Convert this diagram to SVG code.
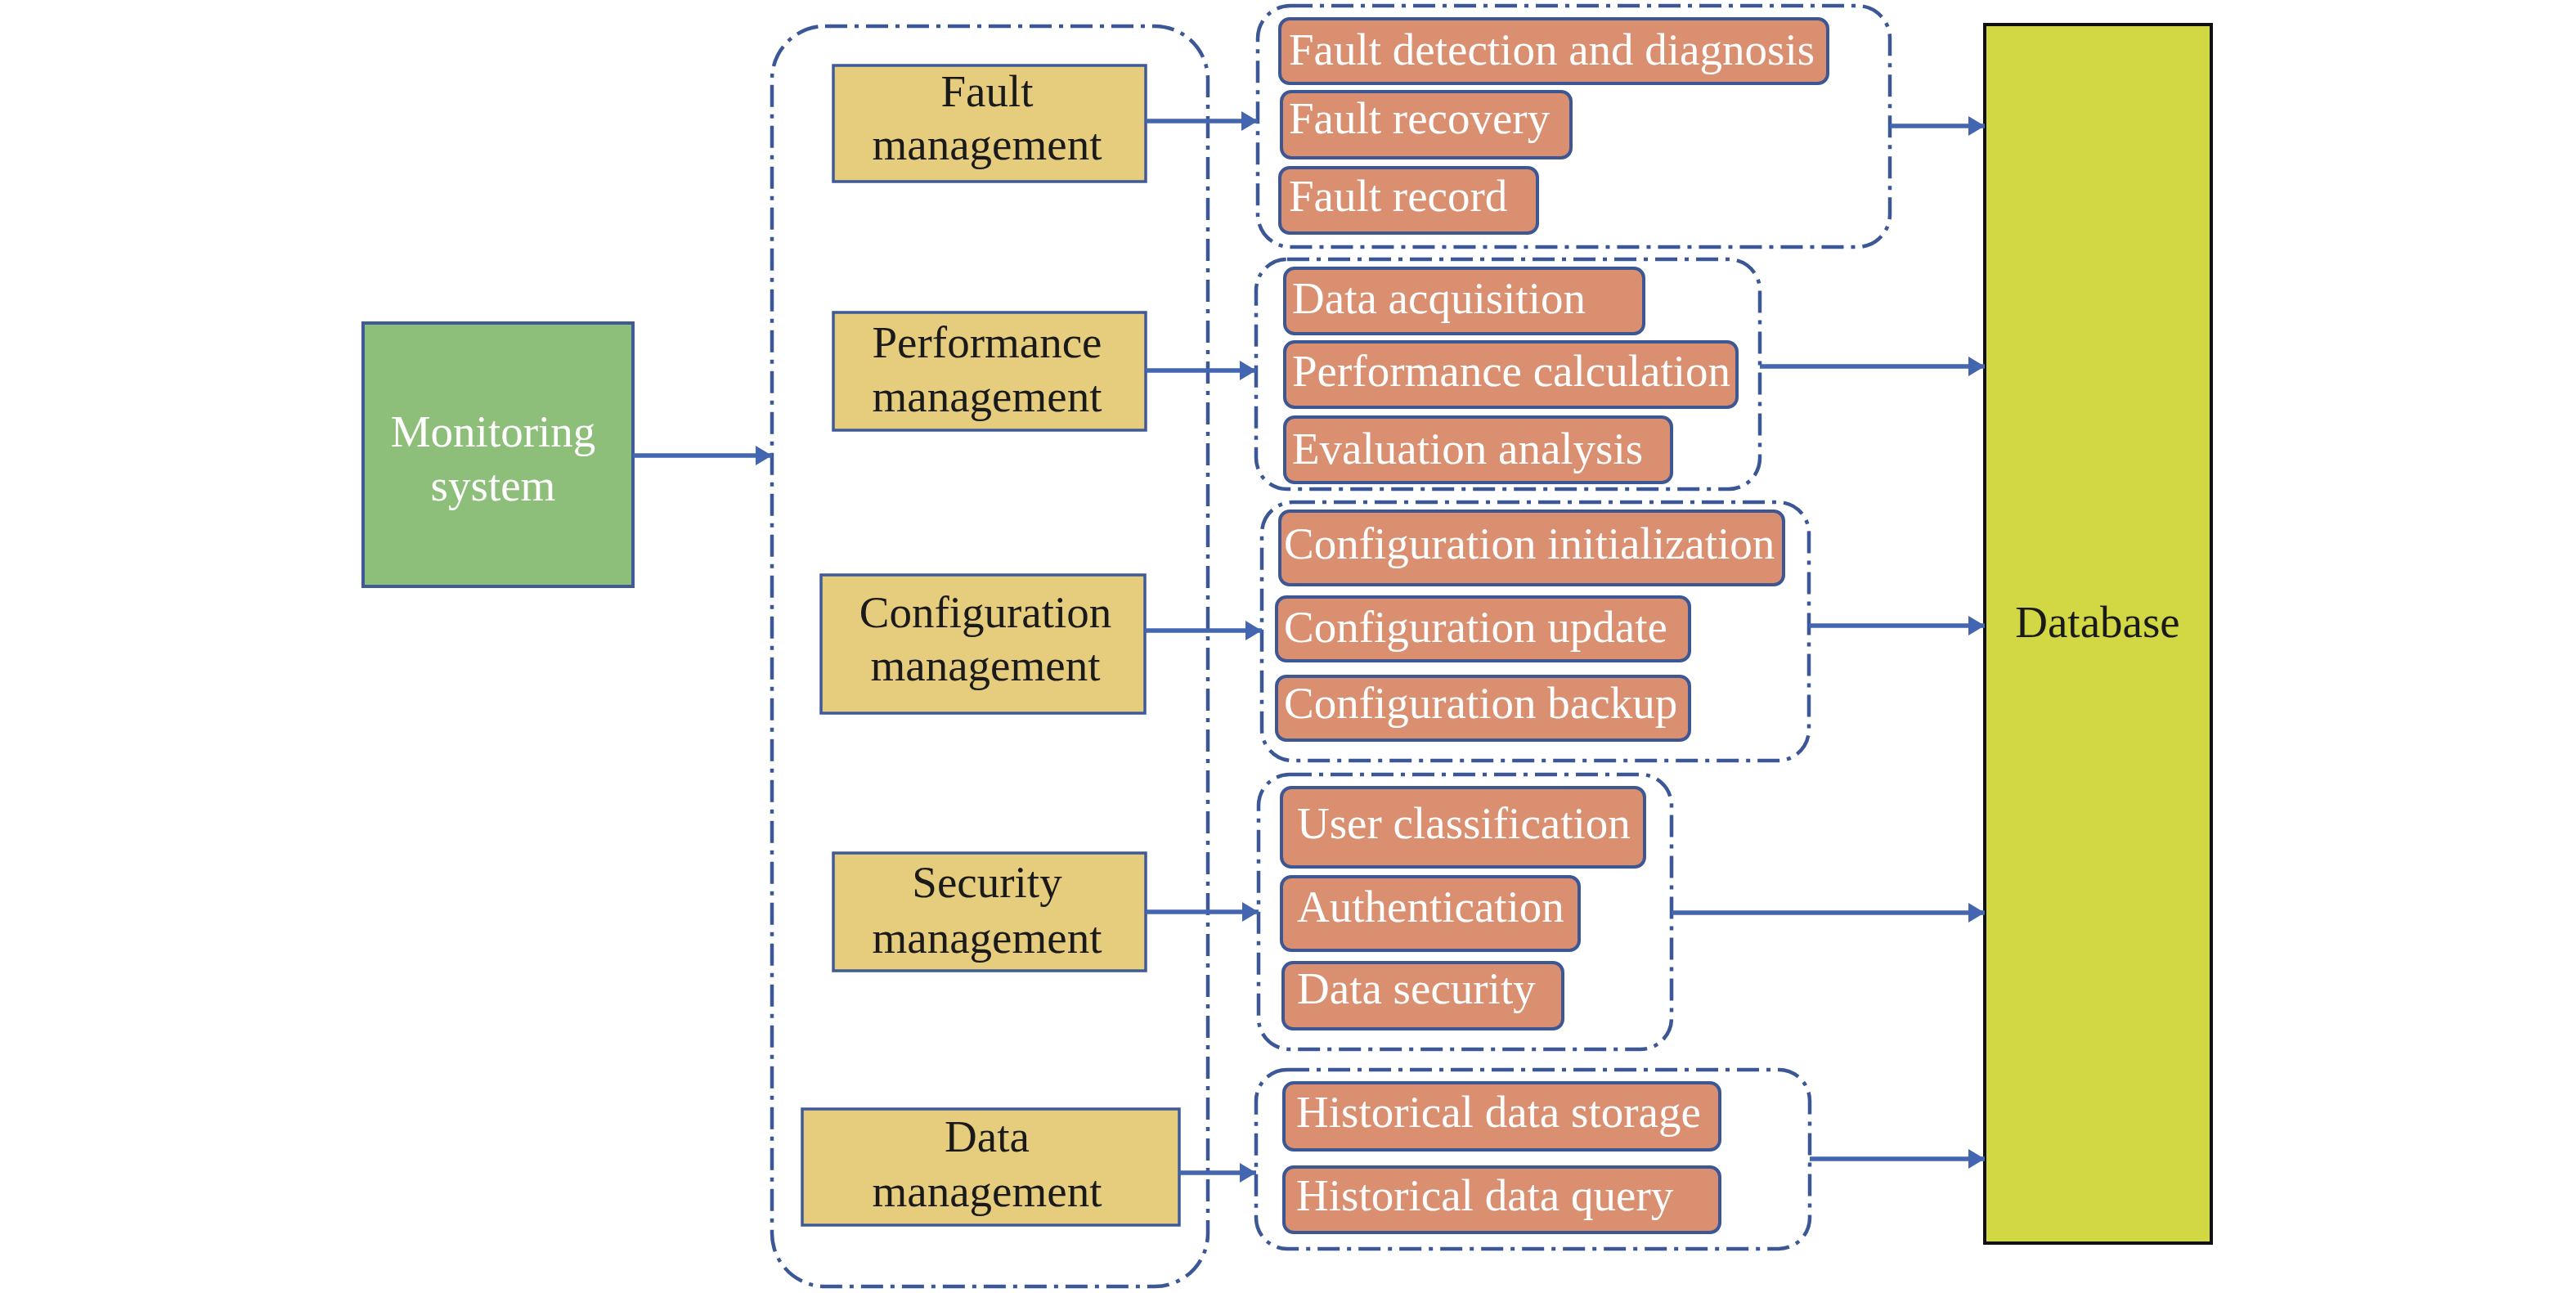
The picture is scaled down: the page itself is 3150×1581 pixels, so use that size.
<svg xmlns="http://www.w3.org/2000/svg" width="3150" height="1581" viewBox="0 0 3150 1581">
<style>
  text { font-family: "Liberation Serif", "Times New Roman", serif; font-size: 55px; }
  .dark { fill: #1a1a1a; }
  .white { fill: #ffffff; }
  .mid { text-anchor: middle; }
  .grp { fill: none; stroke: #3c5796; stroke-width: 4.5; stroke-dasharray: 27 9 5 9; }
  .mgmt { fill: #e6cd7d; stroke: #3f5a99; stroke-width: 3.5; }
  .sub { fill: #d98f70; stroke: #3d5795; stroke-width: 4; }
  .conn { fill: none; stroke: #4466b0; stroke-width: 5.5; marker-end: url(#ah); }
</style>
<defs>
  <marker id="ah" markerUnits="userSpaceOnUse" markerWidth="22" markerHeight="24" refX="20" refY="12" orient="auto">
    <path d="M0,0 L20,12 L0,24 Z" fill="#4466b0"/>
  </marker>
</defs>
<rect width="3150" height="1581" fill="#ffffff"/>

<!-- group frames -->
<g id="frames">
  <rect id="frame-mgmt" class="grp" x="944" y="32" width="533" height="1541" rx="65" ry="65"/>
  <rect id="frame-fault" class="grp" x="1538" y="7" width="773" height="295" rx="40" ry="40"/>
  <rect id="frame-perf" class="grp" x="1536" y="317" width="616" height="281" rx="38" ry="38"/>
  <rect id="frame-config" class="grp" x="1543" y="614" width="669" height="316" rx="38" ry="38"/>
  <rect id="frame-security" class="grp" x="1539" y="947" width="505" height="336" rx="38" ry="38"/>
  <rect id="frame-data" class="grp" x="1536" y="1308" width="677" height="219" rx="38" ry="38"/>
</g>

<!-- Monitoring system -->
<g id="monitoring-system">
  <rect x="444" y="395" width="330" height="322" fill="#8dbe7a" stroke="#3f5a99" stroke-width="4"/>
  <text class="white mid" x="603" y="546">Monitoring</text>
  <text class="white mid" x="603" y="612">system</text>
</g>

<!-- Management nodes -->
<g id="fault-management">
  <rect class="mgmt" x="1019" y="80" width="382" height="142"/>
  <text class="dark mid" x="1207" y="130">Fault</text>
  <text class="dark mid" x="1207" y="195">management</text>
</g>
<g id="performance-management">
  <rect class="mgmt" x="1019" y="382" width="382" height="144"/>
  <text class="dark mid" x="1207" y="437">Performance</text>
  <text class="dark mid" x="1207" y="503">management</text>
</g>
<g id="configuration-management">
  <rect class="mgmt" x="1004" y="703" width="396" height="169"/>
  <text class="dark mid" x="1205" y="767">Configuration</text>
  <text class="dark mid" x="1205" y="832">management</text>
</g>
<g id="security-management">
  <rect class="mgmt" x="1019" y="1043" width="382" height="144"/>
  <text class="dark mid" x="1207" y="1097">Security</text>
  <text class="dark mid" x="1207" y="1165">management</text>
</g>
<g id="data-management">
  <rect class="mgmt" x="981" y="1356" width="461" height="142"/>
  <text class="dark mid" x="1207" y="1408">Data</text>
  <text class="dark mid" x="1207" y="1475">management</text>
</g>

<!-- Sub-function nodes -->
<g id="fault-detection">
  <rect class="sub" x="1565" y="23" width="670" height="79" rx="12"/>
  <text class="white" x="1576" y="79">Fault detection and diagnosis</text>
</g>
<g id="fault-recovery">
  <rect class="sub" x="1567" y="112" width="354" height="81" rx="12"/>
  <text class="white" x="1576" y="163">Fault recovery</text>
</g>
<g id="fault-record">
  <rect class="sub" x="1565" y="205" width="315" height="80" rx="12"/>
  <text class="white" x="1576" y="258">Fault record</text>
</g>

<g id="data-acquisition">
  <rect class="sub" x="1571" y="328" width="439" height="80" rx="12"/>
  <text class="white" x="1580" y="383">Data acquisition</text>
</g>
<g id="performance-calculation">
  <rect class="sub" x="1571" y="418" width="553" height="80" rx="12"/>
  <text class="white" x="1580" y="472">Performance calculation</text>
</g>
<g id="evaluation-analysis">
  <rect class="sub" x="1571" y="510" width="473" height="80" rx="12"/>
  <text class="white" x="1580" y="567">Evaluation analysis</text>
</g>

<g id="configuration-initialization">
  <rect class="sub" x="1565" y="625" width="616" height="90" rx="12"/>
  <text class="white" x="1570" y="683">Configuration initialization</text>
</g>
<g id="configuration-update">
  <rect class="sub" x="1561" y="730" width="505" height="78" rx="12"/>
  <text class="white" x="1570" y="785">Configuration update</text>
</g>
<g id="configuration-backup">
  <rect class="sub" x="1561" y="827" width="505" height="78" rx="12"/>
  <text class="white" x="1570" y="878">Configuration backup</text>
</g>

<g id="user-classification">
  <rect class="sub" x="1567" y="963" width="444" height="97" rx="12"/>
  <text class="white" x="1586" y="1025">User classification</text>
</g>
<g id="authentication">
  <rect class="sub" x="1567" y="1072" width="364" height="90" rx="12"/>
  <text class="white" x="1586" y="1127">Authentication</text>
</g>
<g id="data-security">
  <rect class="sub" x="1569" y="1177" width="342" height="81" rx="12"/>
  <text class="white" x="1586" y="1227">Data security</text>
</g>

<g id="historical-data-storage">
  <rect class="sub" x="1570" y="1324" width="533" height="82" rx="12"/>
  <text class="white" x="1585" y="1378">Historical data storage</text>
</g>
<g id="historical-data-query">
  <rect class="sub" x="1570" y="1427" width="533" height="80" rx="12"/>
  <text class="white" x="1585" y="1480">Historical data query</text>
</g>

<!-- Database -->
<g id="database">
  <rect x="2427" y="30" width="277" height="1490" fill="#d1d843" stroke="#111111" stroke-width="4"/>
  <text class="dark mid" x="2565" y="779">Database</text>
</g>

<!-- Connectors -->
<g id="connectors">
  <line class="conn" x1="774" y1="557" x2="944" y2="557"/>
  <line class="conn" x1="1401" y1="148" x2="1538" y2="148"/>
  <line class="conn" x1="1401" y1="453" x2="1536" y2="453"/>
  <line class="conn" x1="1400" y1="771" x2="1543" y2="771"/>
  <line class="conn" x1="1401" y1="1115" x2="1539" y2="1115"/>
  <line class="conn" x1="1442" y1="1434" x2="1536" y2="1434"/>
  <line class="conn" x1="2311" y1="154" x2="2427" y2="154"/>
  <line class="conn" x1="2152" y1="448" x2="2427" y2="448"/>
  <line class="conn" x1="2212" y1="765" x2="2427" y2="765"/>
  <line class="conn" x1="2044" y1="1116" x2="2427" y2="1116"/>
  <line class="conn" x1="2213" y1="1417" x2="2427" y2="1417"/>
</g>
</svg>
